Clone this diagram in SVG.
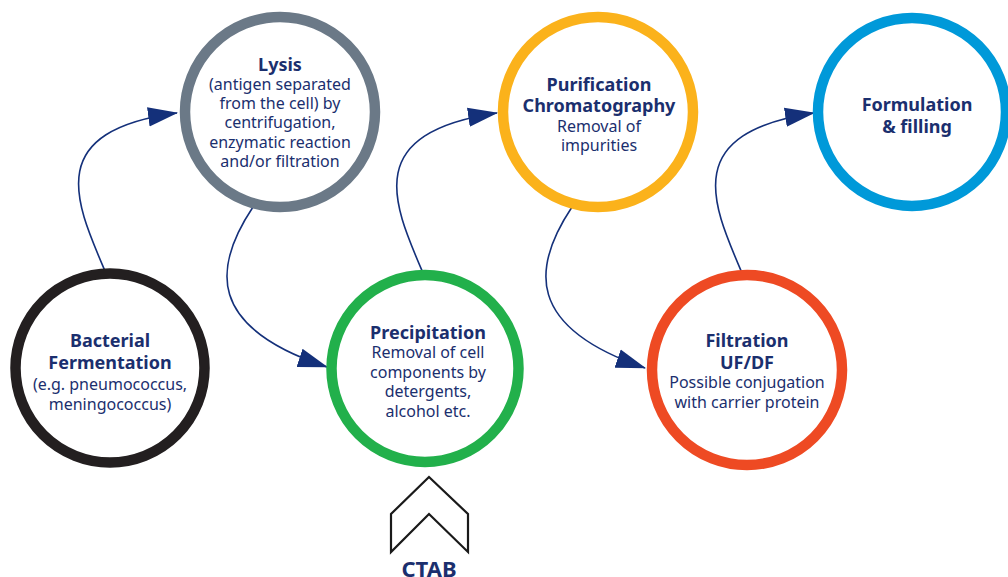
<svg xmlns="http://www.w3.org/2000/svg" width="1008" height="577" viewBox="0 0 1008 577">
<style>
.ring{fill:#fff;stroke-width:10.5}
.t{font-family:"Noto Sans","Open Sans","Liberation Sans",sans-serif;fill:#1b2f6e;text-anchor:middle}
.h{font-weight:700;font-size:18px}
.b{font-size:16px}
.con{fill:none;stroke:#14307a;stroke-width:1.6}
</style>
<defs>
<marker id="ah" markerUnits="userSpaceOnUse" markerWidth="30" markerHeight="20" viewBox="0 0 28 18" refX="27" refY="9" orient="auto">
<path d="M0,0 L28,9 L0,18 Z" fill="#14307a"/>
</marker>
</defs>
<rect width="1008" height="577" fill="#fff"/>
<g id="connectors">
<path class="con" marker-end="url(#ah)" d="M105,271 C75,201 43,131 177,113"/>
<path class="con" marker-end="url(#ah)" d="M253,207 C213,267 206,327 327,367"/>
<path class="con" marker-end="url(#ah)" d="M423,273 C393,203 361,133 497,113"/>
<path class="con" marker-end="url(#ah)" d="M572,207 C532,267 525,327 645,368"/>
<path class="con" marker-end="url(#ah)" d="M742,273 C712,203 680,133 814,113"/>
</g>
<g id="bacterial-fermentation">
<circle class="ring" cx="110" cy="368" r="94.5" stroke="#231f20"/>
<text class="t h" x="110" y="347">Bacterial</text>
<text class="t h" x="110" y="369">Fermentation</text>
<text class="t b" x="110" y="390">(e.g. pneumococcus,</text>
<text class="t b" x="110" y="410">meningococcus)</text>
</g>
<g id="lysis">
<circle class="ring" cx="280" cy="112" r="95" stroke="#6b7987"/>
<text class="t h" x="280" y="71">Lysis</text>
<text class="t b" x="280" y="90">(antigen separated</text>
<text class="t b" x="280" y="109">from the cell) by</text>
<text class="t b" x="280" y="128">centrifugation,</text>
<text class="t b" x="280" y="148">enzymatic reaction</text>
<text class="t b" x="280" y="167">and/or filtration</text>
</g>
<g id="precipitation">
<circle class="ring" cx="425" cy="368.5" r="93.5" stroke="#22b04b"/>
<text class="t h" x="428" y="339">Precipitation</text>
<text class="t b" x="428" y="358">Removal of cell</text>
<text class="t b" x="428" y="378">components by</text>
<text class="t b" x="428" y="397">detergents,</text>
<text class="t b" x="428" y="417">alcohol etc.</text>
</g>
<g id="ctab">
<path d="M429,477 L468,514 L468,552 L429,514 L391,552 L391,514 Z" fill="#fff" stroke="#1a1a1a" stroke-width="2.2" stroke-linejoin="miter"/>
<text class="t h" x="429" y="577" style="font-size:22px">CTAB</text>
</g>
<g id="purification">
<circle class="ring" cx="598" cy="112" r="95" stroke="#fbb21b"/>
<text class="t h" x="599" y="91">Purification</text>
<text class="t h" x="599" y="112">Chromatography</text>
<text class="t b" x="599" y="132">Removal of</text>
<text class="t b" x="599" y="151">impurities</text>
</g>
<g id="filtration">
<circle class="ring" cx="747" cy="370" r="95" stroke="#ee4a23"/>
<text class="t h" x="747" y="347">Filtration</text>
<text class="t h" x="747" y="369">UF/DF</text>
<text class="t b" x="747" y="388">Possible conjugation</text>
<text class="t b" x="747" y="408">with carrier protein</text>
</g>
<g id="formulation">
<circle class="ring" cx="912" cy="112" r="94" stroke="#0099d9"/>
<text class="t h" x="917" y="111">Formulation</text>
<text class="t h" x="917" y="133">&amp; filling</text>
</g>
</svg>
